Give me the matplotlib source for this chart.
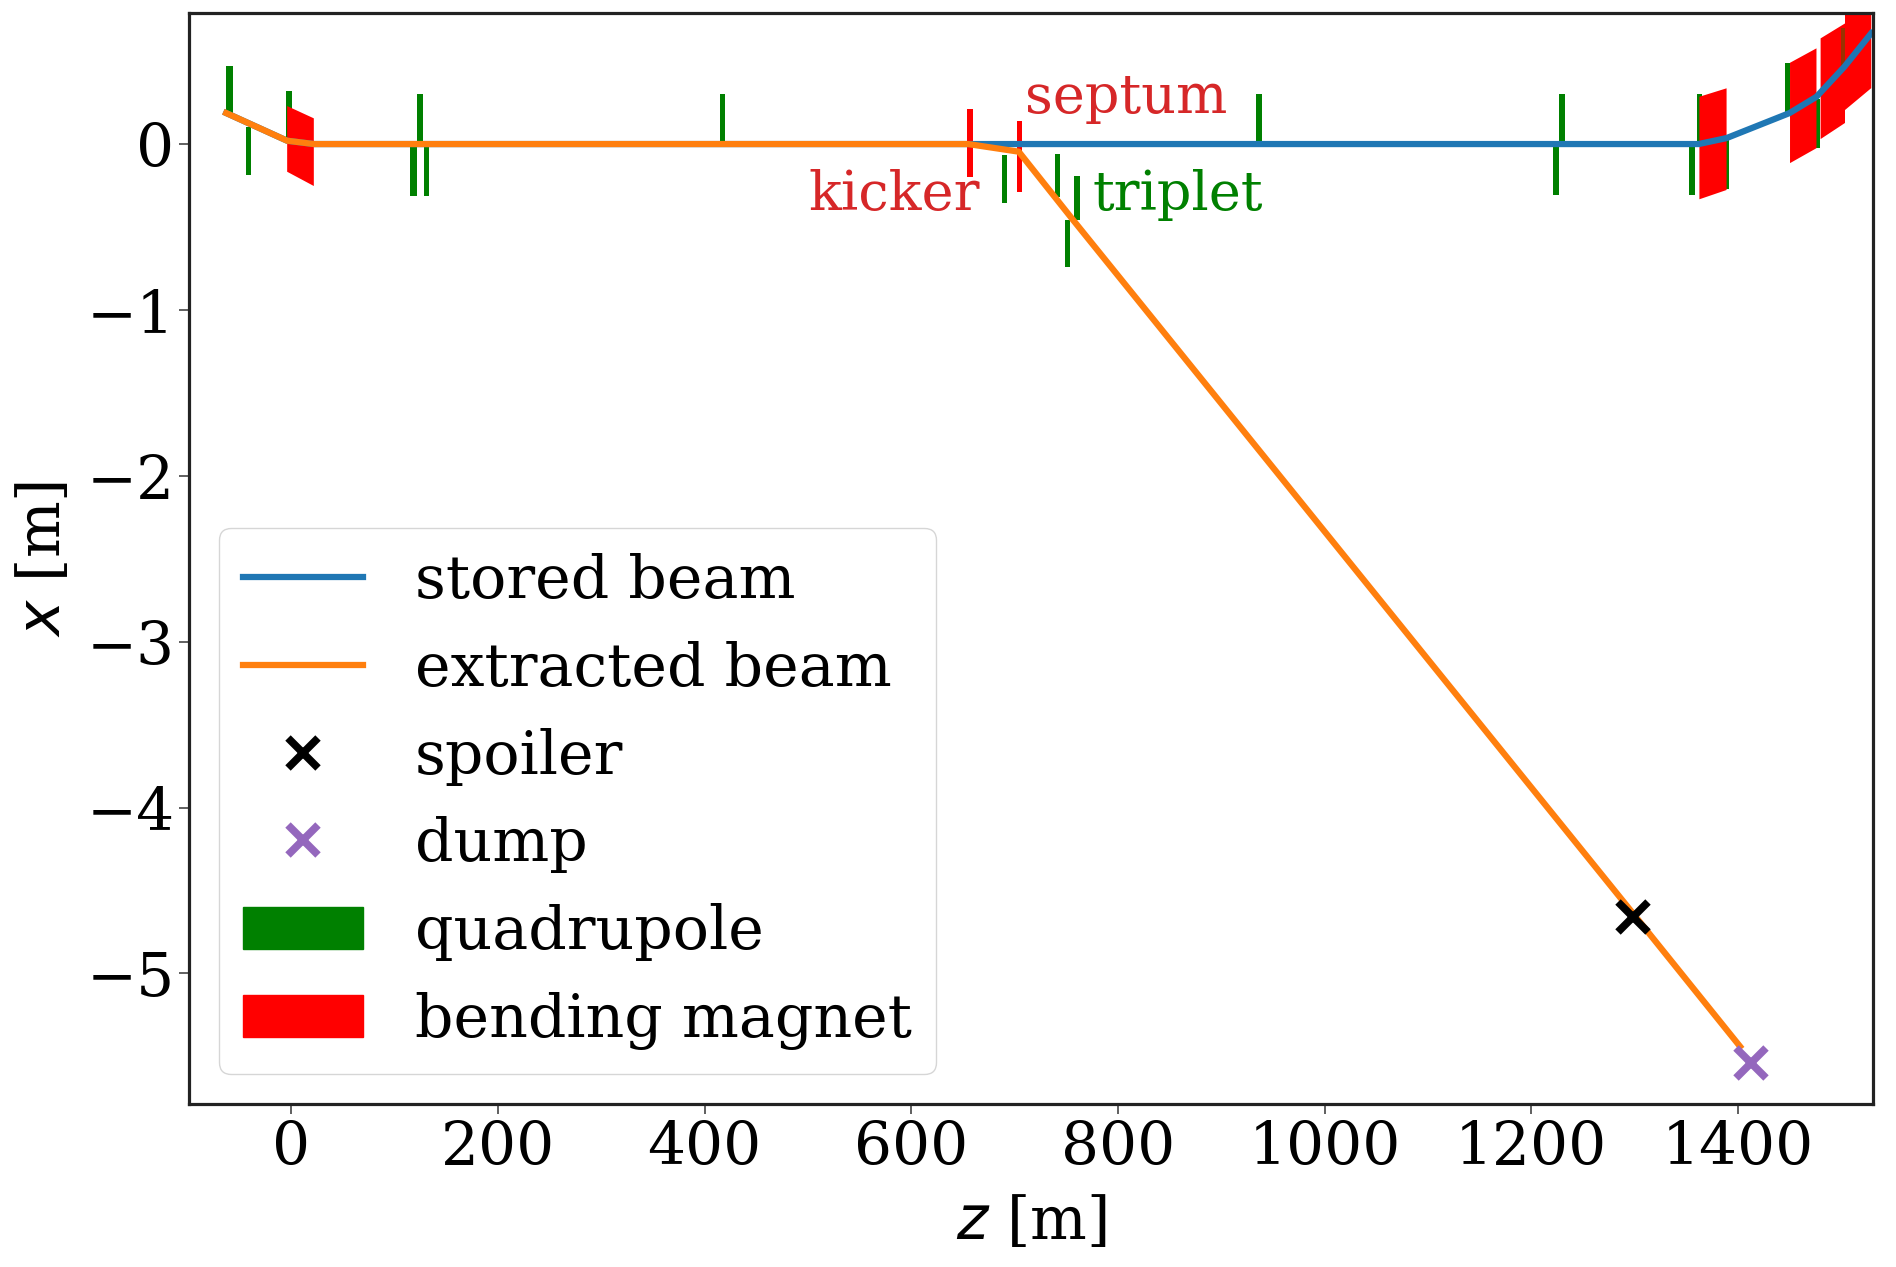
import matplotlib.pyplot as plt
from matplotlib.patches import Patch

# beam paths, z [m] and x [m]
stored_z = [-63, -4, 22, 1362, 1389, 1450, 1476, 1503, 1529]
stored_x = [0.187, 0.02, 0.0, 0.0, 0.036, 0.187, 0.285, 0.466, 0.668]
extracted_z = [-63, -4, 22, 655, 704, 756.6, 1298.7, 1402]
extracted_x = [0.187, 0.02, 0.0, 0.0, -0.046, -0.458, -4.64, -5.44]

spoiler_z, spoiler_x = 1298.7, -4.657
dump_z, dump_x = 1413, -5.54

# quadrupoles: start, end, low, high
quad_z0 = [-63.2, -44, -4.7, 114.7, 121.8, 128.2, 415.2, 687.4, 739, 757.4, 748.5, 933.4,
           1227, 1220.7, 1353, 1360, 1386.5, 1445.5, 1474.6]
quad_z1 = [-56, -38.6, 0.5, 121.5, 127, 133.4, 420.2, 692.7, 744, 763, 754, 939,
           1233, 1226.5, 1358, 1365, 1391.6, 1450, 1479.4]
quad_lo = [0.18, -0.187, 0.01, -0.313, 0, -0.313, 0, -0.357, -0.32, -0.46, -0.74, 0,
           0, -0.307, -0.307, 0, -0.27, 0.187, -0.025]
quad_hi = [0.47, 0.10, 0.32, 0, 0.30, 0, 0.30, -0.066, -0.06, -0.193, -0.46, 0.30,
           0.30, 0, 0, 0.30, 0.03, 0.487, 0.27]

# bending magnets: z left, z right, and the four x corners
bend_z0 = [-4, 1362.7, 1450.4, 1480, 1503.6]
bend_z1 = [21.8, 1389, 1476, 1503.6, 1529]
bend_top0 = [0.229, 0.285, 0.49, 0.637, 0.81]
bend_top1 = [0.155, 0.336, 0.577, 0.727, 0.95]
bend_bot0 = [-0.167, -0.333, -0.115, 0.03, 0.205]
bend_bot1 = [-0.253, -0.277, -0.025, 0.127, 0.337]

# kicker and septum: z start, z end, low, high
kick_z0 = [654, 702]
kick_z1 = [659.3, 707]
kick_lo = [-0.2, -0.287]
kick_hi = [0.21, 0.14]

plt.rcParams['font.family'] = 'DejaVu Serif'
plt.rcParams['font.size'] = 43
plt.rcParams['mathtext.fontset'] = 'dejavusans'

fig = plt.figure(figsize=(18.96, 12.67), dpi=100)
ax = fig.add_axes([189 / 1896, 1 - 1104 / 1267, (1873 - 189) / 1896, (1104 - 13) / 1267])

for z0, z1, lo, hi in zip(quad_z0, quad_z1, quad_lo, quad_hi):
    ax.fill([z0, z1, z1, z0], [lo, lo, hi, hi], color='green', lw=0, zorder=1)

for i in range(len(bend_z0)):
    ax.fill([bend_z0[i], bend_z1[i], bend_z1[i], bend_z0[i]],
            [bend_bot0[i], bend_bot1[i], bend_top1[i], bend_top0[i]],
            color='red', lw=0, zorder=1.5)

# quad seen through the last magnets
ax.fill([1500, 1504, 1504, 1500], [0.47, 0.47, 0.70, 0.70], color='green', alpha=0.4, lw=0, zorder=1.6)

for z0, z1, lo, hi in zip(kick_z0, kick_z1, kick_lo, kick_hi):
    ax.fill([z0, z1, z1, z0], [lo, lo, hi, hi], color='red', lw=0, zorder=1)

ax.plot(stored_z, stored_x, color='tab:blue', lw=4.5, label='stored beam', zorder=2)
ax.plot(extracted_z, extracted_x, color='tab:orange', lw=4.5, label='extracted beam', zorder=2.1)
ax.plot([spoiler_z], [spoiler_x], 'x', color='k', ms=22, mew=5.5, label='spoiler', zorder=3)
ax.plot([dump_z], [dump_x], 'x', color='tab:purple', ms=22, mew=5.5, label='dump', zorder=3)

ax.text(500, -0.395, 'kicker', color='tab:red', fontsize=39)
ax.text(710, 0.19, 'septum', color='tab:red', fontsize=39)
ax.text(775, -0.395, 'triplet', color='green', fontsize=39)

handles, labels = ax.get_legend_handles_labels()
handles += [Patch(color='green'), Patch(color='red')]
labels += ['quadrupole', 'bending magnet']
ax.legend(handles, labels, loc='lower left', fontsize=43.3, labelspacing=0.495, handletextpad=0.85)

ax.set_xlim(-99, 1530.7)
ax.set_ylim(-5.787, 0.79)
ax.set_xticks([0, 200, 400, 600, 800, 1000, 1200, 1400])
ax.set_yticks([0, -1, -2, -3, -4, -5])
ax.set_xlabel('$z$ [m]', labelpad=12)
ax.set_ylabel('$x$ [m]', labelpad=10)
ax.tick_params(length=7, width=1.2, color='#444444')
for s in ax.spines.values():
    s.set_linewidth(2.3)
    s.set_color('#222222')

plt.savefig('out.png', dpi=100)
